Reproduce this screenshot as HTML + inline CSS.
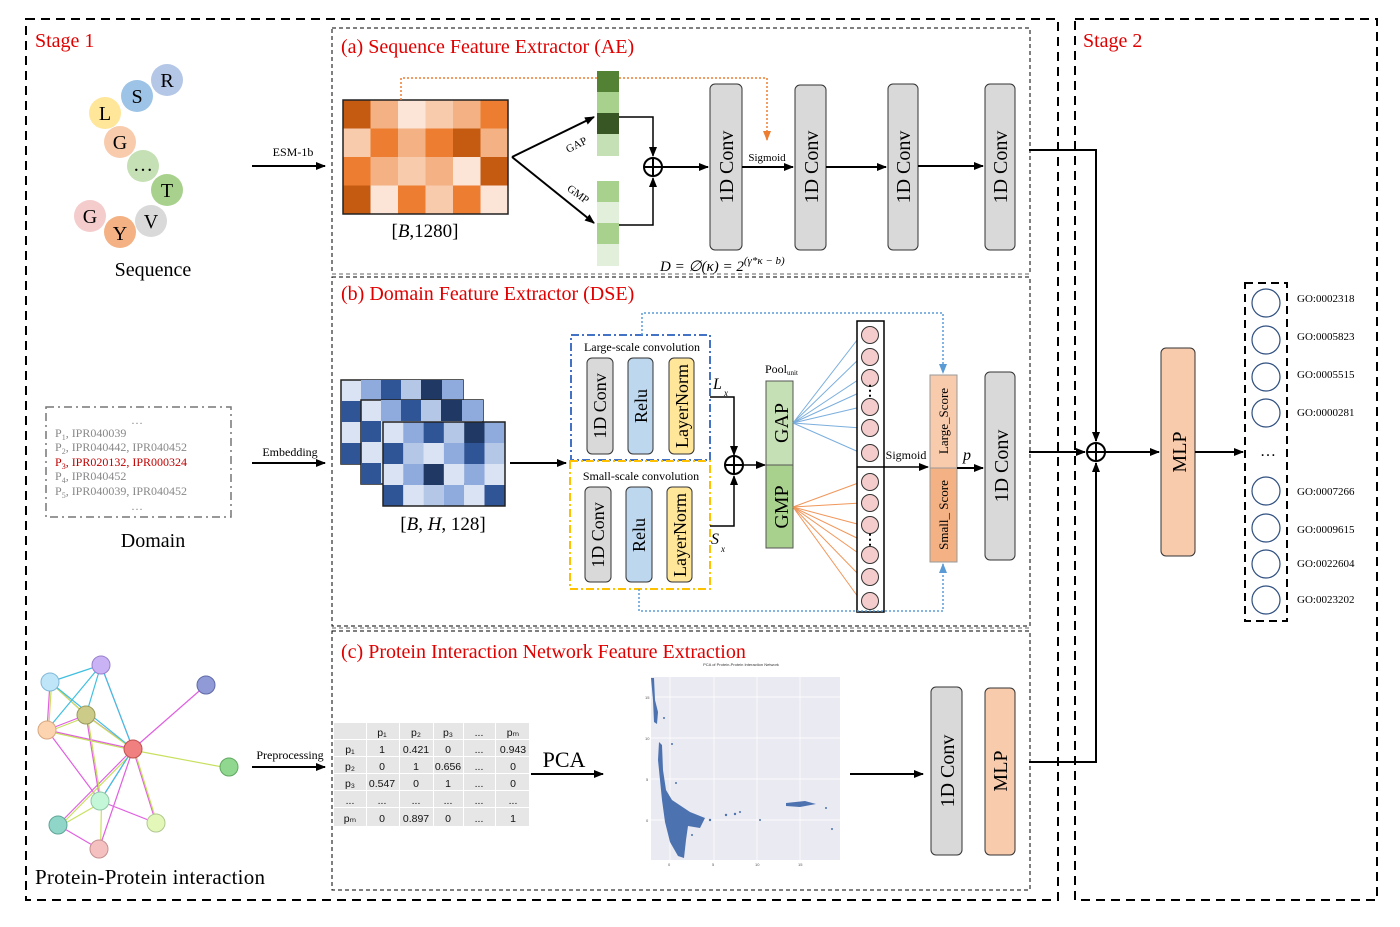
<!DOCTYPE html>
<html><head><meta charset="utf-8"><style>
html,body{margin:0;padding:0;background:#fff;}
svg{display:block;font-family:"Liberation Serif","DejaVu Serif",serif;}
.s{font-family:"Liberation Sans","DejaVu Sans",sans-serif;}
</style></head><body>
<svg width="1400" height="927" viewBox="0 0 1400 927" xmlns="http://www.w3.org/2000/svg">
<defs>
<marker id="ar" markerWidth="10" markerHeight="8" refX="9" refY="4" orient="auto" markerUnits="userSpaceOnUse"><path d="M0,0 L10,4 L0,8 z" fill="#000"/></marker>
<marker id="ao" markerWidth="10" markerHeight="8" refX="9" refY="4" orient="auto" markerUnits="userSpaceOnUse"><path d="M0,0 L10,4 L0,8 z" fill="#ed7d31"/></marker>
<marker id="ab" markerWidth="10" markerHeight="8" refX="9" refY="4" orient="auto" markerUnits="userSpaceOnUse"><path d="M0,0 L10,4 L0,8 z" fill="#5b9bd5"/></marker>
</defs>

<rect x="26" y="19" width="1032" height="881" fill="none" stroke="#000" stroke-width="2" stroke-dasharray="9,6"/>
<rect x="1075" y="19" width="302" height="881" fill="none" stroke="#000" stroke-width="2" stroke-dasharray="9,6"/>
<text x="35" y="47" fill="#e00000" font-size="20">Stage 1</text>
<text x="1083" y="47" fill="#e00000" font-size="20">Stage 2</text>

<rect x="332" y="28" width="698" height="246" fill="none" stroke="#000" stroke-width="1" stroke-dasharray="4,3"/>
<rect x="332" y="277" width="698" height="349" fill="none" stroke="#000" stroke-width="1" stroke-dasharray="4,3"/>
<line x1="332" y1="274" x2="1030" y2="274" stroke="#666" stroke-width="1" stroke-dasharray="4,3"/>
<rect x="332" y="631" width="698" height="259" fill="none" stroke="#000" stroke-width="1" stroke-dasharray="4,3"/>
<line x1="332" y1="628" x2="1030" y2="628" stroke="#666" stroke-width="1" stroke-dasharray="4,3"/>
<text x="341" y="53" fill="#e00000" font-size="20">(a) Sequence Feature Extractor (AE)</text>
<text x="341" y="300" fill="#e00000" font-size="20">(b) Domain Feature Extractor (DSE)</text>
<text x="341" y="658" fill="#e00000" font-size="20">(c) Protein Interaction Network Feature Extraction</text>

<g font-size="20" text-anchor="middle">
<circle cx="167" cy="80" r="16" fill="#b4c7e7"/><text x="167" y="87">R</text>
<circle cx="137" cy="96" r="16" fill="#9dc3e6"/><text x="137" y="103">S</text>
<circle cx="105" cy="113" r="16" fill="#ffe699"/><text x="105" y="120">L</text>
<circle cx="120" cy="142" r="16" fill="#f8cbad"/><text x="120" y="149">G</text>
<circle cx="143" cy="166" r="16" fill="#c5e0b4"/><text x="143" y="171">…</text>
<circle cx="167" cy="190" r="16" fill="#a9d18e"/><text x="167" y="197">T</text>
<circle cx="90" cy="216" r="16" fill="#f4cccc"/><text x="90" y="223">G</text>
<circle cx="151" cy="221" r="16" fill="#d9d9d9"/><text x="151" y="228">V</text>
<circle cx="120" cy="232" r="16" fill="#f4b183"/><text x="120" y="240">Y</text>
</g>
<text x="153" y="276" font-size="20" text-anchor="middle">Sequence</text>
<line x1="252" y1="166" x2="325" y2="166" stroke="#000" stroke-width="2" marker-end="url(#ar)"/>
<text x="293" y="156" font-size="12" text-anchor="middle">ESM-1b</text>

<g stroke="none">
<rect x="343" y="100" width="27.5" height="28.5" fill="#c55a11"/><rect x="370.5" y="100" width="27.5" height="28.5" fill="#f4b183"/><rect x="398" y="100" width="27.5" height="28.5" fill="#fce4d6"/><rect x="425.5" y="100" width="27.5" height="28.5" fill="#f8cbad"/><rect x="453" y="100" width="27.5" height="28.5" fill="#f4b183"/><rect x="480.5" y="100" width="27.5" height="28.5" fill="#ed7d31"/>
<rect x="343" y="128.5" width="27.5" height="28.5" fill="#f8cbad"/><rect x="370.5" y="128.5" width="27.5" height="28.5" fill="#ed7d31"/><rect x="398" y="128.5" width="27.5" height="28.5" fill="#f4b183"/><rect x="425.5" y="128.5" width="27.5" height="28.5" fill="#ed7d31"/><rect x="453" y="128.5" width="27.5" height="28.5" fill="#c55a11"/><rect x="480.5" y="128.5" width="27.5" height="28.5" fill="#f4b183"/>
<rect x="343" y="157" width="27.5" height="28.5" fill="#ed7d31"/><rect x="370.5" y="157" width="27.5" height="28.5" fill="#f4b183"/><rect x="398" y="157" width="27.5" height="28.5" fill="#f8cbad"/><rect x="425.5" y="157" width="27.5" height="28.5" fill="#f4b183"/><rect x="453" y="157" width="27.5" height="28.5" fill="#fce4d6"/><rect x="480.5" y="157" width="27.5" height="28.5" fill="#c55a11"/>
<rect x="343" y="185.5" width="27.5" height="28.5" fill="#c55a11"/><rect x="370.5" y="185.5" width="27.5" height="28.5" fill="#fce4d6"/><rect x="398" y="185.5" width="27.5" height="28.5" fill="#ed7d31"/><rect x="425.5" y="185.5" width="27.5" height="28.5" fill="#f8cbad"/><rect x="453" y="185.5" width="27.5" height="28.5" fill="#ed7d31"/><rect x="480.5" y="185.5" width="27.5" height="28.5" fill="#fce4d6"/>
</g>
<rect x="343" y="100" width="165" height="114" fill="none" stroke="#222" stroke-width="1.5"/>
<text x="425" y="237" font-size="19" text-anchor="middle">[<tspan font-style="italic">B</tspan>,1280]</text>
<path d="M401,100 V78 H767 V140" fill="none" stroke="#ed7d31" stroke-width="1.5" stroke-dasharray="2,2" marker-end="url(#ao)"/>

<rect x="597" y="71" width="22" height="21" fill="#548235"/><rect x="597" y="92" width="22" height="21" fill="#a9d18e"/><rect x="597" y="113" width="22" height="21" fill="#375623"/><rect x="597" y="134" width="22" height="22" fill="#c5e0b4"/>
<rect x="597" y="181" width="22" height="21" fill="#a9d18e"/><rect x="597" y="202" width="22" height="21" fill="#e2efda"/><rect x="597" y="223" width="22" height="21" fill="#a9d18e"/><rect x="597" y="244" width="22" height="22" fill="#e2efda"/>
<line x1="512" y1="157" x2="594" y2="117" stroke="#000" stroke-width="2" marker-end="url(#ar)"/>
<line x1="512" y1="157" x2="594" y2="223" stroke="#000" stroke-width="2" marker-end="url(#ar)"/>
<text x="578" y="148" font-size="11" text-anchor="middle" transform="rotate(-27 578 148)">GAP</text>
<text x="576" y="197" font-size="11" text-anchor="middle" transform="rotate(36 576 197)">GMP</text>
<path d="M619,117 H653 V156" fill="none" stroke="#000" stroke-width="1.5" marker-end="url(#ar)"/>
<path d="M619,225 H653 V178" fill="none" stroke="#000" stroke-width="1.5" marker-end="url(#ar)"/>
<circle cx="653" cy="167" r="9" fill="#fff" stroke="#000" stroke-width="2"/><path d="M644,167 H662 M653,158 V176" stroke="#000" stroke-width="2"/>
<line x1="662" y1="167" x2="708" y2="167" stroke="#000" stroke-width="2" marker-end="url(#ar)"/>

<g fill="#d9d9d9" stroke="#333" stroke-width="1">
<rect x="710" y="84" width="32" height="166" rx="5"/>
<rect x="795" y="85" width="31" height="165" rx="5"/>
<rect x="888" y="84" width="30" height="166" rx="5"/>
<rect x="985" y="84" width="30" height="166" rx="5"/>
</g>
<g font-size="20" text-anchor="middle">
<text transform="translate(733 167) rotate(-90)">1D Conv</text>
<text transform="translate(818 167) rotate(-90)">1D Conv</text>
<text transform="translate(910 167) rotate(-90)">1D Conv</text>
<text transform="translate(1007 167) rotate(-90)">1D Conv</text>
</g>
<line x1="742" y1="167" x2="793" y2="167" stroke="#000" stroke-width="2" marker-end="url(#ar)"/>
<text x="767" y="161" font-size="11" text-anchor="middle">Sigmoid</text>
<line x1="826" y1="167" x2="886" y2="167" stroke="#000" stroke-width="2" marker-end="url(#ar)"/>
<line x1="918" y1="166" x2="983" y2="166" stroke="#000" stroke-width="2" marker-end="url(#ar)"/>
<text x="660" y="271" font-size="15" font-style="italic">D = ∅(κ) = 2<tspan font-size="11" dy="-7">(γ*κ − b)</tspan></text>

<rect x="341" y="380" width="122" height="84" fill="#dae3f3" stroke="#222" stroke-width="1.5"/>
<rect x="361" y="380" width="20" height="21" fill="#8faadc"/><rect x="381" y="380" width="20" height="21" fill="#2f5597"/><rect x="401" y="380" width="20" height="21" fill="#b4c7e7"/><rect x="421" y="380" width="21" height="21" fill="#1f3864"/><rect x="442" y="380" width="21" height="21" fill="#8faadc"/>
<rect x="341" y="401" width="20" height="21" fill="#2f5597"/><rect x="341" y="443" width="20" height="21" fill="#2f5597"/>
<rect x="361" y="400" width="122" height="84" fill="#dae3f3" stroke="#222" stroke-width="1.5"/>
<rect x="381" y="400" width="20" height="21" fill="#8faadc"/><rect x="401" y="400" width="20" height="21" fill="#2f5597"/><rect x="421" y="400" width="20" height="21" fill="#b4c7e7"/><rect x="441" y="400" width="21" height="21" fill="#1f3864"/><rect x="462" y="400" width="21" height="21" fill="#8faadc"/>
<rect x="361" y="421" width="20" height="21" fill="#2f5597"/><rect x="361" y="463" width="20" height="21" fill="#2f5597"/>
<g stroke="none">
<rect x="383" y="422" width="20.3" height="21" fill="#dae3f3"/><rect x="403.3" y="422" width="20.3" height="21" fill="#8faadc"/><rect x="423.6" y="422" width="20.3" height="21" fill="#2f5597"/><rect x="443.9" y="422" width="20.3" height="21" fill="#b4c7e7"/><rect x="464.2" y="422" width="20.3" height="21" fill="#1f3864"/><rect x="484.5" y="422" width="20.5" height="21" fill="#8faadc"/>
<rect x="383" y="443" width="20.3" height="21" fill="#2f5597"/><rect x="403.3" y="443" width="20.3" height="21" fill="#b4c7e7"/><rect x="423.6" y="443" width="20.3" height="21" fill="#dae3f3"/><rect x="443.9" y="443" width="20.3" height="21" fill="#8faadc"/><rect x="464.2" y="443" width="20.3" height="21" fill="#2f5597"/><rect x="484.5" y="443" width="20.5" height="21" fill="#b4c7e7"/>
<rect x="383" y="464" width="20.3" height="21" fill="#dae3f3"/><rect x="403.3" y="464" width="20.3" height="21" fill="#8faadc"/><rect x="423.6" y="464" width="20.3" height="21" fill="#1f3864"/><rect x="443.9" y="464" width="20.3" height="21" fill="#dae3f3"/><rect x="464.2" y="464" width="20.3" height="21" fill="#8faadc"/><rect x="484.5" y="464" width="20.5" height="21" fill="#dae3f3"/>
<rect x="383" y="485" width="20.3" height="21" fill="#2f5597"/><rect x="403.3" y="485" width="20.3" height="21" fill="#dae3f3"/><rect x="423.6" y="485" width="20.3" height="21" fill="#b4c7e7"/><rect x="443.9" y="485" width="20.3" height="21" fill="#8faadc"/><rect x="464.2" y="485" width="20.3" height="21" fill="#dae3f3"/><rect x="484.5" y="485" width="20.5" height="21" fill="#2f5597"/>
</g>
<rect x="383" y="422" width="122" height="84" fill="none" stroke="#222" stroke-width="1.5"/>
<text x="443" y="530" font-size="19" text-anchor="middle">[<tspan font-style="italic">B</tspan>, <tspan font-style="italic">H</tspan>, 128]</text>
<line x1="510" y1="463" x2="566" y2="463" stroke="#000" stroke-width="2" marker-end="url(#ar)"/>

<rect x="571" y="335" width="139" height="125" fill="none" stroke="#4472c4" stroke-width="2" stroke-dasharray="8,3,2,3"/>
<rect x="570" y="461" width="140" height="128" fill="none" stroke="#ffc000" stroke-width="2" stroke-dasharray="8,3,2,3"/>
<text x="642" y="351" font-size="12" text-anchor="middle">Large-scale convolution</text>
<text x="641" y="480" font-size="12" text-anchor="middle">Small-scale convolution</text>
<g stroke="#333" stroke-width="1">
<rect x="587" y="358" width="26" height="96" rx="5" fill="#d9d9d9"/>
<rect x="628" y="358" width="25" height="96" rx="5" fill="#bdd7ee"/>
<rect x="669" y="358" width="25" height="96" rx="5" fill="#ffe699"/>
<rect x="585" y="487" width="26" height="95" rx="5" fill="#d9d9d9"/>
<rect x="626" y="487" width="26" height="95" rx="5" fill="#bdd7ee"/>
<rect x="667" y="487" width="25" height="95" rx="5" fill="#ffe699"/>
</g>
<g font-size="18" text-anchor="middle">
<text transform="translate(606 406) rotate(-90)">1D Conv</text>
<text transform="translate(647 406) rotate(-90)">Relu</text>
<text transform="translate(688 406) rotate(-90)">LayerNorm</text>
<text transform="translate(604 535) rotate(-90)">1D Conv</text>
<text transform="translate(645 535) rotate(-90)">Relu</text>
<text transform="translate(686 535) rotate(-90)">LayerNorm</text>
</g>
<text x="713" y="389" font-size="16" font-style="italic">L</text><text x="724" y="396" font-size="9" font-style="italic">x</text>
<text x="711" y="544" font-size="16" font-style="italic">S</text><text x="721" y="552" font-size="9" font-style="italic">x</text>
<path d="M710,397 H734 V455" fill="none" stroke="#000" stroke-width="1.5" marker-end="url(#ar)"/>
<path d="M710,526 H734 V476" fill="none" stroke="#000" stroke-width="1.5" marker-end="url(#ar)"/>
<circle cx="734" cy="465" r="9" fill="#fff" stroke="#000" stroke-width="2"/><path d="M725,465 H743 M734,456 V474" stroke="#000" stroke-width="2"/>
<line x1="743" y1="465" x2="765" y2="465" stroke="#000" stroke-width="1.5" marker-end="url(#ar)"/>
<text x="765" y="373" font-size="12">Pool<tspan font-size="7" dy="2">unit</tspan></text>
<rect x="766" y="381" width="27" height="84" fill="#c5e0b4" stroke="#555" stroke-width="1"/>
<rect x="766" y="465" width="27" height="83" fill="#a9d18e" stroke="#555" stroke-width="1"/>
<text transform="translate(788 423) rotate(-90)" font-size="20" text-anchor="middle">GAP</text>
<text transform="translate(788 507) rotate(-90)" font-size="20" text-anchor="middle">GMP</text>

<g stroke="#5b9bd5" stroke-width="1" opacity="0.8">
<line x1="793" y1="423" x2="861" y2="335"/><line x1="793" y1="423" x2="861" y2="357"/><line x1="793" y1="423" x2="861" y2="378"/><line x1="793" y1="423" x2="861" y2="392"/><line x1="793" y1="423" x2="861" y2="407"/><line x1="793" y1="423" x2="861" y2="428"/><line x1="793" y1="423" x2="861" y2="453"/>
</g>
<g stroke="#ed7d31" stroke-width="1" opacity="0.8">
<line x1="793" y1="507" x2="861" y2="482"/><line x1="793" y1="507" x2="861" y2="503"/><line x1="793" y1="507" x2="861" y2="525"/><line x1="793" y1="507" x2="861" y2="540"/><line x1="793" y1="507" x2="861" y2="555"/><line x1="793" y1="507" x2="861" y2="577"/><line x1="793" y1="507" x2="861" y2="601"/>
</g>
<rect x="857" y="321" width="27" height="291" fill="#fff" stroke="#000" stroke-width="1.5"/>
<g fill="#f4cccc" stroke="#333" stroke-width="1">
<circle cx="870" cy="335" r="8.5"/><circle cx="870" cy="357" r="8.5"/><circle cx="870" cy="378" r="8.5"/><circle cx="870" cy="407" r="8.5"/><circle cx="870" cy="428" r="8.5"/><circle cx="870" cy="453" r="8.5"/>
<circle cx="870" cy="482" r="8.5"/><circle cx="870" cy="503" r="8.5"/><circle cx="870" cy="525" r="8.5"/><circle cx="870" cy="555" r="8.5"/><circle cx="870" cy="577" r="8.5"/><circle cx="870" cy="601" r="8.5"/>
</g>
<text x="870" y="395" font-size="14" text-anchor="middle" font-weight="bold">⋮</text>
<text x="870" y="544" font-size="14" text-anchor="middle" font-weight="bold">⋮</text>
<line x1="857" y1="467" x2="928" y2="467" stroke="#000" stroke-width="1.5" marker-end="url(#ar)"/>
<text x="906" y="459" font-size="12" text-anchor="middle">Sigmoid</text>
<rect x="930" y="375" width="27" height="93" fill="#f8cbad" stroke="#999" stroke-width="1"/>
<rect x="930" y="468" width="27" height="94" fill="#f4b183" stroke="#999" stroke-width="1"/>
<text transform="translate(948 421) rotate(-90)" font-size="13" text-anchor="middle">Large_Score</text>
<text transform="translate(948 515) rotate(-90)" font-size="13" text-anchor="middle">Small_ Score</text>
<line x1="957" y1="468" x2="983" y2="468" stroke="#000" stroke-width="2" marker-end="url(#ar)"/>
<text x="963" y="460" font-size="16" font-style="italic">p</text>
<rect x="985" y="372" width="30" height="188" rx="5" fill="#d9d9d9" stroke="#333" stroke-width="1"/>
<text transform="translate(1008 466) rotate(-90)" font-size="20" text-anchor="middle">1D Conv</text>
<path d="M642,335 V313 H943 V373" fill="none" stroke="#5b9bd5" stroke-width="1.5" stroke-dasharray="2,2" marker-end="url(#ab)"/>
<path d="M639,589 V611 H943 V564" fill="none" stroke="#5b9bd5" stroke-width="1.5" stroke-dasharray="2,2" marker-end="url(#ab)"/>

<rect x="46" y="407" width="185" height="110" fill="none" stroke="#777" stroke-width="1.5" stroke-dasharray="8,4,2,4"/>
<g font-size="12" fill="#888">
<text x="137" y="424" text-anchor="middle">…</text>
<text x="55" y="437">P<tspan font-size="8" dy="3">1</tspan><tspan dy="-3">, IPR040039</tspan></text>
<text x="55" y="451">P<tspan font-size="8" dy="3">2</tspan><tspan dy="-3">, IPR040442, IPR040452</tspan></text>
<text x="55" y="466" fill="#c00000">P<tspan font-size="8" dy="3">3</tspan><tspan dy="-3">, IPR020132, IPR000324</tspan></text>
<text x="55" y="480">P<tspan font-size="8" dy="3">4</tspan><tspan dy="-3">, IPR040452</tspan></text>
<text x="55" y="495">P<tspan font-size="8" dy="3">5</tspan><tspan dy="-3">, IPR040039, IPR040452</tspan></text>
<text x="137" y="510" text-anchor="middle">…</text>
</g>
<text x="153" y="547" font-size="20" text-anchor="middle">Domain</text>
<line x1="252" y1="463" x2="325" y2="463" stroke="#000" stroke-width="2" marker-end="url(#ar)"/>
<text x="290" y="456" font-size="12" text-anchor="middle">Embedding</text>

<g stroke-width="1.2" fill="none">
<g stroke="#e060e0">
<path d="M50,682 L86,715 L133,749 M47,730 L86,715 M47,730 L133,749 M101,665 L133,749 M206,685 L133,749 M47,730 L100,801 M86,715 L100,801 M133,749 L100,801 M133,749 L58,825 M133,749 L99,849 M133,749 L156,823 M100,801 L156,823 M58,825 L99,849 M50,682 L47,730"/>
</g>
<g stroke="#c8e060" transform="translate(1.5 1.5)">
<path d="M50,682 L86,715 L133,749 M47,730 L86,715 M47,730 L133,749 M133,749 L229,767 M86,715 L100,801 M133,749 L58,825 M100,801 L58,825 M100,801 L99,849 M133,749 L156,823 M50,682 L47,730"/>
</g>
<g stroke="#40c0e0">
<path d="M50,682 L101,665 M101,665 L47,730 M101,665 L86,715 M50,682 L133,749 M133,749 L100,801 M101,665 L133,749"/>
</g>
</g>
<g stroke-width="1">
<circle cx="101" cy="665" r="9" fill="#c9b3f5" stroke="#9980cc"/>
<circle cx="50" cy="682" r="9" fill="#bfe6f8" stroke="#80b8d8"/>
<circle cx="86" cy="715" r="9" fill="#cccc88" stroke="#999960"/>
<circle cx="47" cy="730" r="9" fill="#fdd4b0" stroke="#d8a880"/>
<circle cx="133" cy="749" r="9" fill="#f08080" stroke="#c05050"/>
<circle cx="206" cy="685" r="9" fill="#8f9ad6" stroke="#5f6aa6"/>
<circle cx="229" cy="767" r="9" fill="#90d890" stroke="#60a860"/>
<circle cx="100" cy="801" r="9" fill="#c3f7d8" stroke="#90c8a8"/>
<circle cx="58" cy="825" r="9" fill="#8fd6c8" stroke="#5fa698"/>
<circle cx="156" cy="823" r="9" fill="#e3f7b8" stroke="#b0c890"/>
<circle cx="99" cy="849" r="9" fill="#f4c0c0" stroke="#c49090"/>
</g>
<text x="150" y="884" font-size="21" text-anchor="middle" textLength="230">Protein-Protein interaction</text>
<line x1="252" y1="767" x2="325" y2="767" stroke="#000" stroke-width="2" marker-end="url(#ar)"/>
<text x="290" y="759" font-size="12" text-anchor="middle">Preprocessing</text>

<g fill="#e6e6e6">
<rect x="334" y="723" width="32" height="16"/><rect x="367" y="723" width="32" height="16"/><rect x="400" y="723" width="33" height="16"/><rect x="434" y="723" width="29" height="16"/><rect x="464" y="723" width="31" height="16"/><rect x="496" y="723" width="33" height="16"/>
<rect x="334" y="740" width="32" height="16"/><rect x="367" y="740" width="32" height="16"/><rect x="400" y="740" width="33" height="16"/><rect x="434" y="740" width="29" height="16"/><rect x="464" y="740" width="31" height="16"/><rect x="496" y="740" width="33" height="16"/>
<rect x="334" y="757" width="32" height="16"/><rect x="367" y="757" width="32" height="16"/><rect x="400" y="757" width="33" height="16"/><rect x="434" y="757" width="29" height="16"/><rect x="464" y="757" width="31" height="16"/><rect x="496" y="757" width="33" height="16"/>
<rect x="334" y="774" width="32" height="16"/><rect x="367" y="774" width="32" height="16"/><rect x="400" y="774" width="33" height="16"/><rect x="434" y="774" width="29" height="16"/><rect x="464" y="774" width="31" height="16"/><rect x="496" y="774" width="33" height="16"/>
<rect x="334" y="791" width="32" height="16"/><rect x="367" y="791" width="32" height="16"/><rect x="400" y="791" width="33" height="16"/><rect x="434" y="791" width="29" height="16"/><rect x="464" y="791" width="31" height="16"/><rect x="496" y="791" width="33" height="16"/>
<rect x="334" y="808" width="32" height="18"/><rect x="367" y="808" width="32" height="18"/><rect x="400" y="808" width="33" height="18"/><rect x="434" y="808" width="29" height="18"/><rect x="464" y="808" width="31" height="18"/><rect x="496" y="808" width="33" height="18"/>
</g>
<g class="s" font-size="10.5" text-anchor="middle" fill="#111">
<text x="382" y="736">p₁</text><text x="416" y="736">p₂</text><text x="448" y="736">p₃</text><text x="479" y="736">...</text><text x="513" y="736">pₘ</text>
<text x="350" y="753">p₁</text><text x="382" y="753">1</text><text x="416" y="753">0.421</text><text x="448" y="753">0</text><text x="479" y="753">...</text><text x="513" y="753">0.943</text>
<text x="350" y="770">p₂</text><text x="382" y="770">0</text><text x="416" y="770">1</text><text x="448" y="770">0.656</text><text x="479" y="770">...</text><text x="513" y="770">0</text>
<text x="350" y="787">p₃</text><text x="382" y="787">0.547</text><text x="416" y="787">0</text><text x="448" y="787">1</text><text x="479" y="787">...</text><text x="513" y="787">0</text>
<text x="350" y="804">...</text><text x="382" y="804">...</text><text x="416" y="804">...</text><text x="448" y="804">...</text><text x="479" y="804">...</text><text x="513" y="804">...</text>
<text x="350" y="822">pₘ</text><text x="382" y="822">0</text><text x="416" y="822">0.897</text><text x="448" y="822">0</text><text x="479" y="822">...</text><text x="513" y="822">1</text>
</g>
<text x="564" y="767" font-size="22" text-anchor="middle">PCA</text>
<line x1="531" y1="774" x2="603" y2="774" stroke="#000" stroke-width="2" marker-end="url(#ar)"/>

<rect x="640" y="669" width="202" height="200" fill="#fff"/>
<rect x="651" y="677" width="189" height="183" fill="#eaeaf2"/>
<g stroke="#fff" stroke-width="0.7">
<line x1="670" y1="677" x2="670" y2="860"/><line x1="714" y1="677" x2="714" y2="860"/><line x1="757" y1="677" x2="757" y2="860"/><line x1="800" y1="677" x2="800" y2="860"/>
<line x1="651" y1="697" x2="840" y2="697"/><line x1="651" y1="738" x2="840" y2="738"/><line x1="651" y1="779" x2="840" y2="779"/><line x1="651" y1="820" x2="840" y2="820"/>
</g>
<text x="741" y="666" font-size="4" class="s" text-anchor="middle" fill="#333">PCA of Protein-Protein Interaction Network</text>
<g fill="#4c72b0">
<path d="M651,678 L654,678 L655,700 L658,712 L657,724 L654,722 L653,700 Z"/>
<path d="M659,742 L662,745 L663,770 L666,790 L672,800 L690,812 L705,818 L700,828 L688,826 L686,840 L684,858 L678,856 L670,842 L665,822 L662,800 L660,780 L658,760 Z"/>
<path d="M786,803 L805,801 L816,804 L800,807 L786,806 Z"/>
<circle cx="726" cy="815" r="1.2"/><circle cx="735" cy="814" r="1.2"/><circle cx="760" cy="820" r="1"/><circle cx="740" cy="812" r="1"/><circle cx="832" cy="829" r="1"/><circle cx="826" cy="808" r="1"/><circle cx="672" cy="744" r="1"/><circle cx="676" cy="783" r="1"/><circle cx="664" cy="718" r="1"/><circle cx="710" cy="820" r="1.2"/><circle cx="692" cy="835" r="1"/>
</g>
<g font-size="4" class="s" fill="#555"><text x="645" y="699">15</text><text x="645" y="740">10</text><text x="646" y="781">5</text><text x="646" y="822">0</text><text x="668" y="866">0</text><text x="712" y="866">5</text><text x="755" y="866">10</text><text x="798" y="866">15</text></g>

<line x1="850" y1="774" x2="923" y2="774" stroke="#000" stroke-width="2" marker-end="url(#ar)"/>
<rect x="931" y="687" width="31" height="168" rx="5" fill="#d9d9d9" stroke="#333" stroke-width="1"/>
<text transform="translate(954 771) rotate(-90)" font-size="20" text-anchor="middle">1D Conv</text>
<rect x="985" y="688" width="30" height="167" rx="5" fill="#f8cbad" stroke="#333" stroke-width="1"/>
<text transform="translate(1007 771) rotate(-90)" font-size="20" text-anchor="middle">MLP</text>

<path d="M1029,150 H1096 V441" fill="none" stroke="#000" stroke-width="2" marker-end="url(#ar)"/>
<line x1="1029" y1="452" x2="1085" y2="452" stroke="#000" stroke-width="2" marker-end="url(#ar)"/>
<path d="M1029,762 H1096 V463" fill="none" stroke="#000" stroke-width="2" marker-end="url(#ar)"/>
<circle cx="1096" cy="452" r="9" fill="#fff" stroke="#000" stroke-width="2"/><path d="M1087,452 H1105 M1096,443 V461" stroke="#000" stroke-width="2"/>
<line x1="1105" y1="452" x2="1159" y2="452" stroke="#000" stroke-width="2" marker-end="url(#ar)"/>
<rect x="1161" y="348" width="34" height="208" rx="5" fill="#f8cbad" stroke="#333" stroke-width="1"/>
<text transform="translate(1186 452) rotate(-90)" font-size="20" text-anchor="middle">MLP</text>
<line x1="1195" y1="452" x2="1243" y2="452" stroke="#000" stroke-width="2" marker-end="url(#ar)"/>

<rect x="1245" y="283" width="42" height="338" fill="none" stroke="#000" stroke-width="2" stroke-dasharray="8,5"/>
<g fill="#fff" stroke="#2f4f7f" stroke-width="1.2">
<circle cx="1266" cy="303" r="14"/><circle cx="1266" cy="340" r="14"/><circle cx="1266" cy="377" r="14"/><circle cx="1266" cy="413" r="14"/>
<circle cx="1266" cy="491" r="14"/><circle cx="1266" cy="528" r="14"/><circle cx="1266" cy="564" r="14"/><circle cx="1266" cy="600" r="14"/>
</g>
<text x="1268" y="456" font-size="16" text-anchor="middle">…</text>
<g font-size="11">
<text x="1297" y="302">GO:0002318</text><text x="1297" y="340">GO:0005823</text><text x="1297" y="378">GO:0005515</text><text x="1297" y="416">GO:0000281</text>
<text x="1297" y="495">GO:0007266</text><text x="1297" y="533">GO:0009615</text><text x="1297" y="567">GO:0022604</text><text x="1297" y="603">GO:0023202</text>
</g>
</svg>
</body></html>
